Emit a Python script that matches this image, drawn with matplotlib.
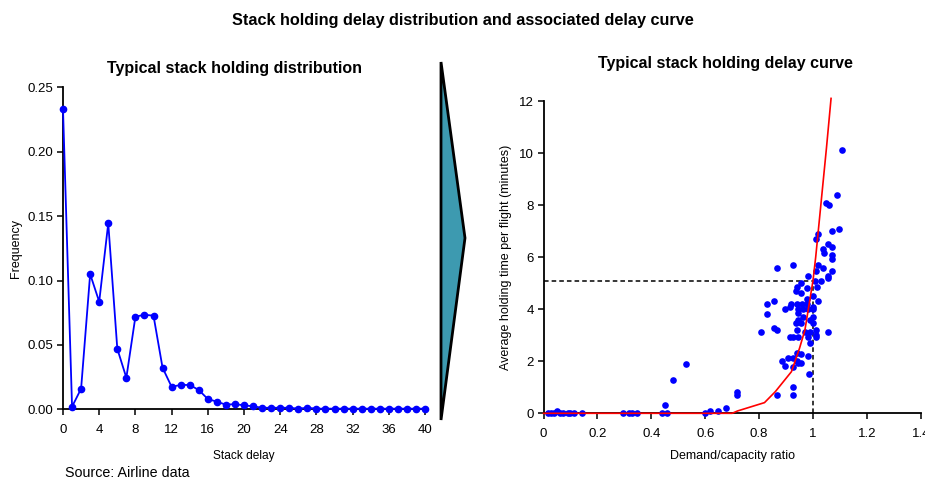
import matplotlib
matplotlib.use("Agg")
import matplotlib.pyplot as plt
from matplotlib.patches import Polygon

plt.rcParams['font.family'] = ['Liberation Sans', 'DejaVu Sans']

# ---- Left chart data: stack holding distribution ----
stack_delay = list(range(0, 41))
frequency = [0.233, 0.002, 0.016, 0.105, 0.0835, 0.1444, 0.047, 0.0245, 0.0719, 0.0734,
             0.0727, 0.0323, 0.0175, 0.0189, 0.0189, 0.015, 0.008, 0.0059, 0.0036, 0.004,
             0.0031, 0.0023, 0.0012, 0.0012, 0.0012, 0.0012, 0.0005, 0.0012, 0.0005, 0.0005,
             0.0005, 0.0005, 0.0005, 0.0005, 0.0005, 0.0005, 0.0005, 0.0005, 0.0005, 0.0005,
             0.0005]
left_xticks = list(range(0, 41, 4))
left_yticks = [0.00, 0.05, 0.10, 0.15, 0.20, 0.25]

# ---- Right chart data: observed holding times ----
ratio_obs = [1.106, 1.088, 1.048, 1.059, 1.098, 1.069, 1.017, 1.010, 1.057, 1.071,
             1.038, 1.041, 1.069, 1.069, 1.017, 0.927, 0.868, 1.038, 1.010, 1.071,
             0.980, 1.057, 1.057, 0.955, 1.007, 1.028, 0.942, 0.979, 1.014, 0.937,
             0.955, 0.999, 1.017, 0.855, 0.828, 0.917, 0.940, 0.979, 0.979, 0.959,
             0.999, 0.896, 0.915, 0.943, 0.964, 0.983, 1.001, 0.943, 0.828, 0.962,
             1.001, 0.945, 0.989, 0.937, 0.955, 1.000, 0.855, 0.868, 0.940, 0.808,
             0.970, 1.057, 1.010, 1.010, 0.989, 0.915, 0.927, 0.945, 0.980, 1.010,
             0.989, 0.940, 0.957, 0.983, 0.908, 0.927, 0.884, 0.896, 0.927, 0.945,
             0.957, 0.940, 0.986, 0.927, 0.927, 0.868, 0.719, 0.719, 0.677,
             0.528, 0.479, 0.450, 0.439, 0.457, 0.599, 0.618, 0.646, 0.296, 0.318,
             0.327, 0.348, 0.018, 0.039, 0.049, 0.060, 0.072, 0.090, 0.098, 0.114,
             0.142, 0.027]
holding_obs = [10.11, 8.40, 8.09, 7.99, 7.09, 6.99, 6.89, 6.71, 6.50, 6.40,
               6.30, 6.17, 6.09, 5.91, 5.70, 5.70, 5.59, 5.59, 5.48, 5.48,
               5.27, 5.27, 5.18, 4.99, 5.09, 5.09, 4.86, 4.80, 4.86, 4.69,
               4.61, 4.51, 4.31, 4.31, 4.20, 4.20, 4.20, 4.39, 4.20, 4.20,
               4.10, 4.00, 4.10, 4.00, 4.00, 4.00, 4.00, 3.87, 3.81, 3.69,
               3.69, 3.58, 3.58, 3.48, 3.48, 3.48, 3.29, 3.20, 3.20, 3.11,
               3.11, 3.11, 3.20, 3.00, 3.11, 2.92, 2.92, 2.92, 2.92, 2.92,
               2.69, 2.30, 2.28, 2.20, 2.11, 2.11, 2.01, 1.82, 1.79, 1.92,
               1.92, 2.01, 1.51, 1.02, 0.70, 0.70, 0.81, 0.70, 0.22,
               1.88, 1.28, 0.32, 0.0, 0.0, 0.02, 0.10, 0.10, 0.0, 0.0,
               0.0, 0.0, 0.0, 0.0, 0.08, 0.0, 0.0, 0.0, 0.0, 0.0,
               0.0, 0.0]

# ---- Right chart data: fitted delay curve ----
curve_ratio = [0.0, 0.70, 0.72, 0.82, 0.86, 0.92, 0.95, 0.97, 1.00, 1.01, 1.05, 1.067]
curve_delay = [0.0, 0.0, 0.09, 0.41, 0.83, 1.60, 2.50, 3.20, 5.10, 6.00, 10.20, 12.10]

ref_ratio = 1.0
ref_delay = 5.1

right_xticks = [0, 0.2, 0.4, 0.6, 0.8, 1.0, 1.2, 1.4]
right_xticklabels = ["0", "0.2", "0.4", "0.6", "0.8", "1", "1.2", "1.4"]
right_yticks = [0, 2, 4, 6, 8, 10, 12]

W, H = 925, 480
fig = plt.figure(figsize=(W / 100, H / 100), dpi=100)

def fx(px):
    return px / W

def fy(py):
    return 1 - py / H

BLUE = "#0000ff"
TICK_FS = 9.5
LABEL_FS = 9
TITLE_FS = 11.5

# ---- Left axes ----
axL = fig.add_axes([fx(63), fy(409.3), fx(425) - fx(63), fy(87.3) - fy(409.3)])
axL.plot(stack_delay, frequency, color=BLUE, lw=1.3, marker='o', ms=4.5,
         clip_on=False, zorder=3)
axL.set_xlim(0, 40)
axL.set_ylim(0, 0.25)
axL.set_xticks(left_xticks)
axL.set_yticks(left_yticks)
axL.set_yticklabels([f"{v:.2f}" for v in left_yticks])
axL.set_xlabel("Stack delay", fontsize=8.6, labelpad=10)
axL.set_ylabel("Frequency", fontsize=LABEL_FS, labelpad=4)
axL.set_title("Typical stack holding distribution", fontsize=TITLE_FS,
              fontweight='bold', pad=10, x=0.475)

# ---- Right axes ----
axR = fig.add_axes([fx(543.5), fy(413.3), fx(920.8) - fx(543.5), fy(101) - fy(413.3)])
axR.plot([0, ref_ratio], [ref_delay, ref_delay], color='black', lw=1.1,
         ls=(0, (3, 2)), zorder=2)
axR.plot([ref_ratio, ref_ratio], [0, ref_delay], color='black', lw=1.1,
         ls=(0, (3, 2)), zorder=2)
axR.scatter(ratio_obs, holding_obs, s=23, color=BLUE, zorder=3, clip_on=False,
            linewidths=0)
axR.plot(curve_ratio, curve_delay, color='#ff0000', lw=1.2, zorder=4, clip_on=False)
axR.set_xlim(0, 1.4)
axR.set_ylim(0, 12)
axR.set_xticks(right_xticks)
axR.set_xticklabels(right_xticklabels)
axR.set_yticks(right_yticks)
axR.set_xlabel("Demand/capacity ratio", fontsize=LABEL_FS, labelpad=7)
axR.set_ylabel("Average holding time per flight (minutes)", fontsize=LABEL_FS,
               labelpad=5)
axR.set_title("Typical stack holding delay curve", fontsize=TITLE_FS,
              fontweight='bold', pad=24, x=0.481)

for ax in (axL, axR):
    for s in ('top', 'right'):
        ax.spines[s].set_visible(False)
    for s in ('left', 'bottom'):
        ax.spines[s].set_linewidth(1.3)
    ax.tick_params(direction='out', length=4, width=1.1, labelsize=TICK_FS)
    ax.tick_params(axis='x', pad=6.5)
    ax.tick_params(axis='y', pad=3)

# ---- Arrow between the charts ----
arrow = Polygon([[fx(441), fy(62)], [fx(465), fy(238)], [fx(441), fy(420)]],
                closed=True, transform=fig.transFigure, facecolor='#3d9ab0',
                edgecolor='black', lw=2.0, joinstyle='miter')
fig.patches.append(arrow)

fig.text(0.5, fy(20), "Stack holding delay distribution and associated delay curve",
         ha='center', va='center', fontsize=11.7, fontweight='bold')
fig.text(fx(65), fy(473), "Source: Airline data", ha='left', va='center', fontsize=10.3)

fig.savefig("out.png", dpi=100)
